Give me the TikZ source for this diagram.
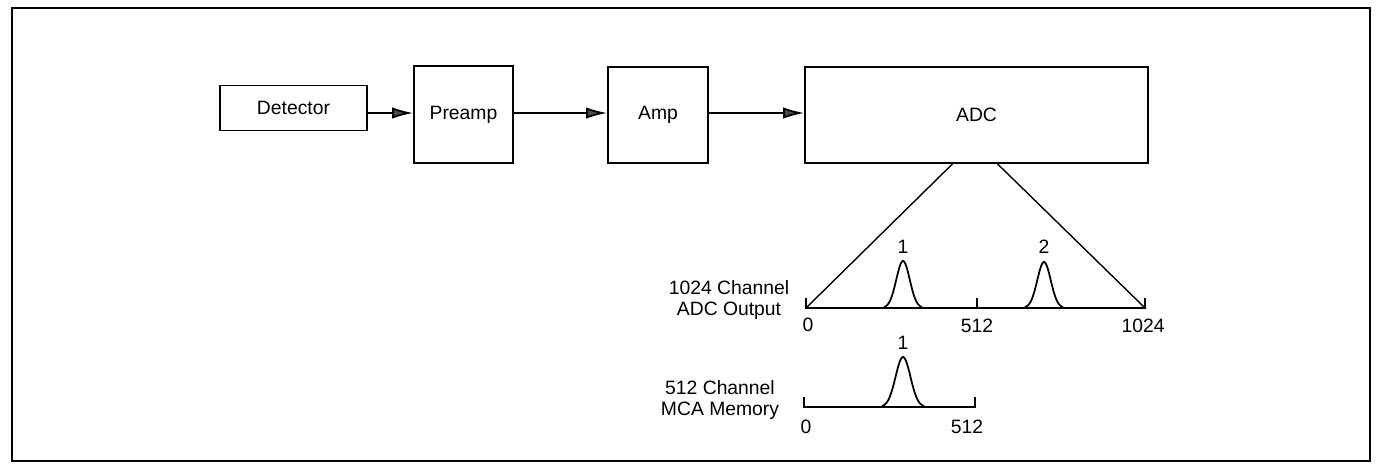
\documentclass[tikz,border=0pt]{standalone}
\usepackage{fontspec}
\setmainfont{Liberation Sans}
\usetikzlibrary{arrows.meta}

\tikzset{
  block/.style={draw,line width=1pt,inner sep=0pt,font=\fontsize{11}{12}\selectfont},
  sig/.style={line width=1pt,-{Latex[length=12pt,width=6.5pt,fill=black!70]}},
  axis/.style={line width=1pt},
  peak/.style={line width=1pt,smooth,samples=40},
  lbl/.style={inner sep=0pt,font=\fontsize{11}{12}\selectfont},
}

\begin{document}
\begin{tikzpicture}[x=0.02cm,y=-0.02cm]
\useasboundingbox (0,0) rectangle (1378,466);
\draw[line width=1.1pt] (12,8) rectangle (1370,461);

% signal chain
\node[block,minimum width=2.94cm,minimum height=0.9cm] (det) at (293.5,108) {Detector};
\node[block,minimum width=1.98cm,minimum height=1.94cm] (pre) at (463.5,114.5) {Preamp};
\node[block,minimum width=2.0cm,minimum height=1.92cm] (amp) at (658,115) {Amp};
\node[block,minimum width=6.86cm,minimum height=1.92cm] (adc) at (976.5,115) {ADC};
\draw[sig] (det.east|-0,113) -- (pre.west|-0,113);
\draw[sig] (pre.east|-0,113) -- (amp.west|-0,113);
\draw[sig] (amp.east|-0,113) -- (adc.west|-0,113);

% 1024 channel spectrum
\coordinate (o0) at (806,308);
\coordinate (o512) at (977,308);
\coordinate (o1024) at (1145,308);
\draw[line width=0.8pt] (adc.south) ++(-24,0) -- (o0);
\draw[line width=0.8pt] (adc.south) ++(21,0) -- (o1024);
\draw[axis] (o0) ++(0,-10) -- (o0) -- (o1024) -- ++(0,-10);
\draw[axis] (o512) -- ++(0,-10);
\draw[peak] plot[domain=884:922] (\x,{308-47*exp(-((\x-903)/9.5)*((\x-903)/9.5))});
\draw[peak] plot[domain=1025:1063] (\x,{308-46*exp(-((\x-1044)/9.5)*((\x-1044)/9.5))});
\node[lbl] (p1) at (903,247) {1};
\node[lbl] (p2) at (1044,247) {2};
\node[lbl] (t0) at (808,325) {0};
\node[lbl] (t512) at (977,326) {512};
\node[lbl] (t1024) at (1143,326) {1024};
\node[lbl,align=center] (adcout) at (729,300) {1024 Channel\\ADC Output};

% 512 channel memory
\coordinate (m0) at (804,407);
\coordinate (m512) at (975,407);
\draw[axis] (m0) ++(0,-10) -- (m0) -- (m512) -- ++(0,-10);
\draw[peak] plot[domain=882:924] (\x,{407-50*exp(-((\x-903)/10.5)*((\x-903)/10.5))});
\node[lbl] (q1) at (903,343) {1};
\node[lbl] (u0) at (806,427) {0};
\node[lbl] (u512) at (967,427) {512};
\node[lbl,align=center] (mca) at (720,400) {512 Channel\\MCA Memory};
\end{tikzpicture}
\end{document}
